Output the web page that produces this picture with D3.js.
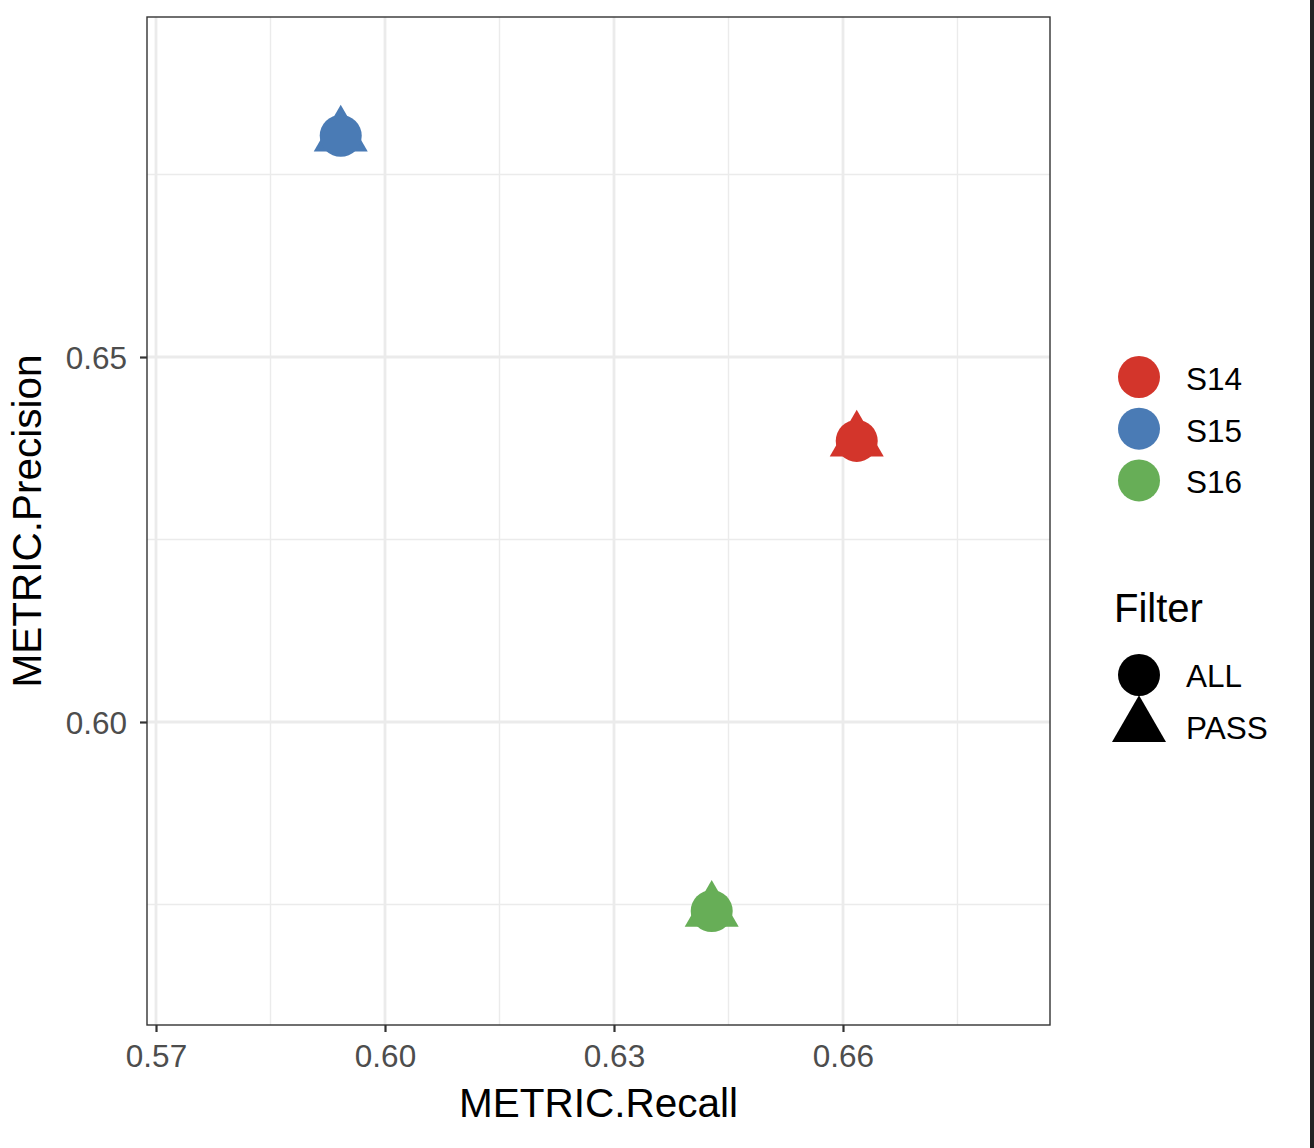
<!DOCTYPE html>
<html>
<head>
<meta charset="utf-8">
<script src="https://cdn.jsdelivr.net/npm/d3@7"></script>
<style>
  html, body { margin: 0; padding: 0; background: #fff; }
  svg { display: block; font-family: "Liberation Sans", Arial, Helvetica, sans-serif; }
</style>
</head>
<body>
<svg id="chart" width="1314" height="1148"></svg>
<script>
// ---- data ----
const samples = ["S14", "S15", "S16"];
const filters = ["ALL", "PASS"];
const recallAll = [0.6618, 0.5942, 0.6428];
const precisionAll = [0.6385, 0.6803, 0.5741];
const recallPass = [0.6618, 0.5942, 0.6428];
const precisionPass = [0.6385, 0.6803, 0.5741];
const xTicks = [0.57, 0.60, 0.63, 0.66];
const xMinor = [0.585, 0.615, 0.645, 0.675];
const yTicks = [0.60, 0.65];
const yMinor = [0.575, 0.625, 0.675];
const sampleColors = ["#D3352B", "#4A7BB5", "#67AE57"];

const points = [];
samples.forEach((s, i) => {
  points.push({sample: s, filter: "PASS", x: recallPass[i], y: precisionPass[i]});
  points.push({sample: s, filter: "ALL", x: recallAll[i], y: precisionAll[i]});
});

// ---- layout ----
const svg = d3.select("#chart");
const panel = {left: 147, top: 17, right: 1050, bottom: 1025};

const x = d3.scaleLinear().domain([0.56882, 0.68712]).range([panel.left, panel.right]);
const y = d3.scaleLinear().domain([0.55849, 0.69658]).range([panel.bottom, panel.top]);
const color = d3.scaleOrdinal().domain(samples).range(sampleColors);

const circleArea = Math.PI * 21 * 21;
const triArea = Math.sqrt(3) / 4 * 54 * 54;
const shape = d3.scaleOrdinal().domain(filters).range([d3.symbolCircle, d3.symbolTriangle]);
const shapeSize = d3.scaleOrdinal().domain(filters).range([circleArea, triArea]);
const symbolPath = f => d3.symbol().type(shape(f)).size(shapeSize(f))();

// right dark strip (screen edge artifact)
svg.append("rect").attr("x", 1310).attr("y", 0).attr("width", 4).attr("height", 1148).attr("fill", "#222");

// grid
const g = svg.append("g");
g.selectAll(".xmin").data(xMinor).join("line")
  .attr("x1", d => x(d)).attr("x2", d => x(d)).attr("y1", panel.top).attr("y2", panel.bottom)
  .attr("stroke", "#EBEBEB").attr("stroke-width", 1.4);
g.selectAll(".ymin").data(yMinor).join("line")
  .attr("y1", d => y(d)).attr("y2", d => y(d)).attr("x1", panel.left).attr("x2", panel.right)
  .attr("stroke", "#EBEBEB").attr("stroke-width", 1.4);
g.selectAll(".xmaj").data(xTicks).join("line")
  .attr("x1", d => x(d)).attr("x2", d => x(d)).attr("y1", panel.top).attr("y2", panel.bottom)
  .attr("stroke", "#EBEBEB").attr("stroke-width", 2.8);
g.selectAll(".ymaj").data(yTicks).join("line")
  .attr("y1", d => y(d)).attr("y2", d => y(d)).attr("x1", panel.left).attr("x2", panel.right)
  .attr("stroke", "#EBEBEB").attr("stroke-width", 2.8);

// points
svg.append("g").selectAll("path").data(points).join("path")
  .attr("d", d => symbolPath(d.filter))
  .attr("transform", d => `translate(${x(d.x)},${y(d.y)})`)
  .attr("fill", d => color(d.sample));

// panel border
svg.append("rect")
  .attr("x", panel.left).attr("y", panel.top)
  .attr("width", panel.right - panel.left).attr("height", panel.bottom - panel.top)
  .attr("fill", "none").attr("stroke", "#333").attr("stroke-width", 1.4);

// axes
const xAxis = d3.axisBottom(x).tickValues(xTicks).tickFormat(d3.format(".2f")).tickSize(7).tickPadding(13);
const xg = svg.append("g").attr("transform", `translate(0,${panel.bottom})`).call(xAxis);
xg.select(".domain").remove();
xg.selectAll(".tick line").attr("stroke", "#333").attr("stroke-width", 2.2);
xg.selectAll(".tick text").attr("fill", "#4D4D4D").attr("font-size", 31.5)
  .attr("font-family", "Liberation Sans, Arial, sans-serif").attr("dy", "0.71em");

const yAxis = d3.axisLeft(y).tickValues(yTicks).tickFormat(d3.format(".2f")).tickSize(7).tickPadding(13);
const yg = svg.append("g").attr("transform", `translate(${panel.left},0)`).call(yAxis);
yg.select(".domain").remove();
yg.selectAll(".tick line").attr("stroke", "#333").attr("stroke-width", 2.2);
yg.selectAll(".tick text").attr("fill", "#4D4D4D").attr("font-size", 31.5)
  .attr("font-family", "Liberation Sans, Arial, sans-serif").attr("dy", "0.36em");

// axis titles
svg.append("text").attr("x", (panel.left + panel.right) / 2).attr("y", 1117)
  .attr("text-anchor", "middle").attr("font-size", 40.5).attr("fill", "#000").text("METRIC.Recall");
svg.append("text").attr("transform", `translate(41,${(panel.top + panel.bottom) / 2}) rotate(-90)`)
  .attr("text-anchor", "middle").attr("font-size", 40.5).attr("fill", "#000").text("METRIC.Precision");

// legend: samples
const lg1 = svg.append("g");
samples.forEach((s, i) => {
  const cy = 377 + i * 51.7;
  lg1.append("path").attr("d", d3.symbol().type(d3.symbolCircle).size(circleArea)())
    .attr("transform", `translate(1139,${cy})`).attr("fill", color(s));
  lg1.append("text").attr("x", 1186).attr("y", cy + 13).attr("font-size", 31.5).attr("fill", "#000").text(s);
});

// legend: filter
const lg2 = svg.append("g");
lg2.append("text").attr("x", 1114).attr("y", 622).attr("font-size", 40).attr("fill", "#000").text("Filter");
filters.forEach((f, i) => {
  const cy = 675 + i * 51.5;
  lg2.append("path").attr("d", symbolPath(f)).attr("transform", `translate(1139,${cy})`).attr("fill", "#000");
  lg2.append("text").attr("x", 1186).attr("y", cy + 12).attr("font-size", 31.5).attr("fill", "#000").text(f);
});
</script>
</body>
</html>
